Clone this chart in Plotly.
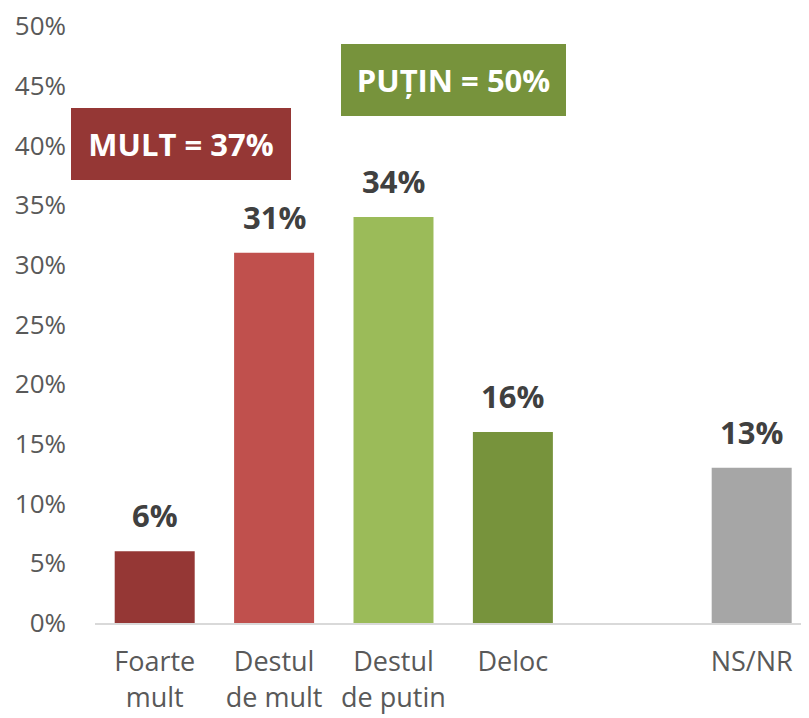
import plotly.graph_objects as go

categories = ["Foarte<br>mult", "Destul<br>de mult", "Destul<br>de putin", "Deloc", "", "NS/NR"]
values = [6, 31, 34, 16, None, 13]
labels = ["6%", "31%", "34%", "16%", "", "13%"]
colors = ["#953735", "#C0504D", "#9BBB59", "#77933C", "#FFFFFF", "#A6A6A6"]
y_ticks = [0, 5, 10, 15, 20, 25, 30, 35, 40, 45, 50]
y_ticklabels = [f"{v}%" for v in y_ticks]
summary_texts = ["MULT = 37%", "PUȚIN = 50%"]
summary_colors = ["#953735", "#77933C"]

xs = list(range(len(categories)))

fig = go.Figure()
fig.add_trace(go.Bar(
    x=xs, y=values, width=0.67,
    marker=dict(color=colors, line=dict(width=0)),
    hoverinfo="skip",
))

for x, v, t in zip(xs, values, labels):
    if v is None:
        continue
    fig.add_annotation(x=x, y=v, text=f"<b>{t}</b>", showarrow=False,
                       yanchor="bottom", yshift=13,
                       font=dict(family="Open Sans", size=31, color="#404040"))

# summary boxes
box_x = [0.218, 2.5]
box_y = [40.1, 45.5]
box_w = [220, 225]
for txt, col, bx, by, bw in zip(summary_texts, summary_colors, box_x, box_y, box_w):
    fig.add_annotation(x=bx, y=by, text=f"<b>{txt}</b>", showarrow=False,
                       xanchor="center", yanchor="middle",
                       width=bw, height=72, bgcolor=col, borderpad=0, borderwidth=0,
                       font=dict(family="Open Sans", size=31, color="#FFFFFF"))

fig.update_layout(
    width=801, height=710,
    margin=dict(l=87, r=0, t=18, b=95),
    plot_bgcolor="white", paper_bgcolor="white",
    showlegend=False,
    bargap=0.33,
    xaxis=dict(
        range=[-0.5, 5.48], tickmode="array", tickvals=xs, ticktext=categories,
        showgrid=False, zeroline=False, showline=True, linecolor="#D9D9D9", linewidth=2,
        ticks="", tickfont=dict(family="Open Sans", size=27, color="#595959"),
        ticklabelstandoff=14, automargin=False, ticklabeloverflow="allow",
    ),
    yaxis=dict(
        range=[0, 50], tickmode="array", tickvals=y_ticks, ticktext=y_ticklabels,
        showgrid=False, zeroline=False, showline=False, ticks="",
        tickfont=dict(family="Open Sans", size=26, color="#595959"),
        ticklabelstandoff=28, automargin=False, ticklabeloverflow="allow",
    ),
)

fig.write_html("out.html")
